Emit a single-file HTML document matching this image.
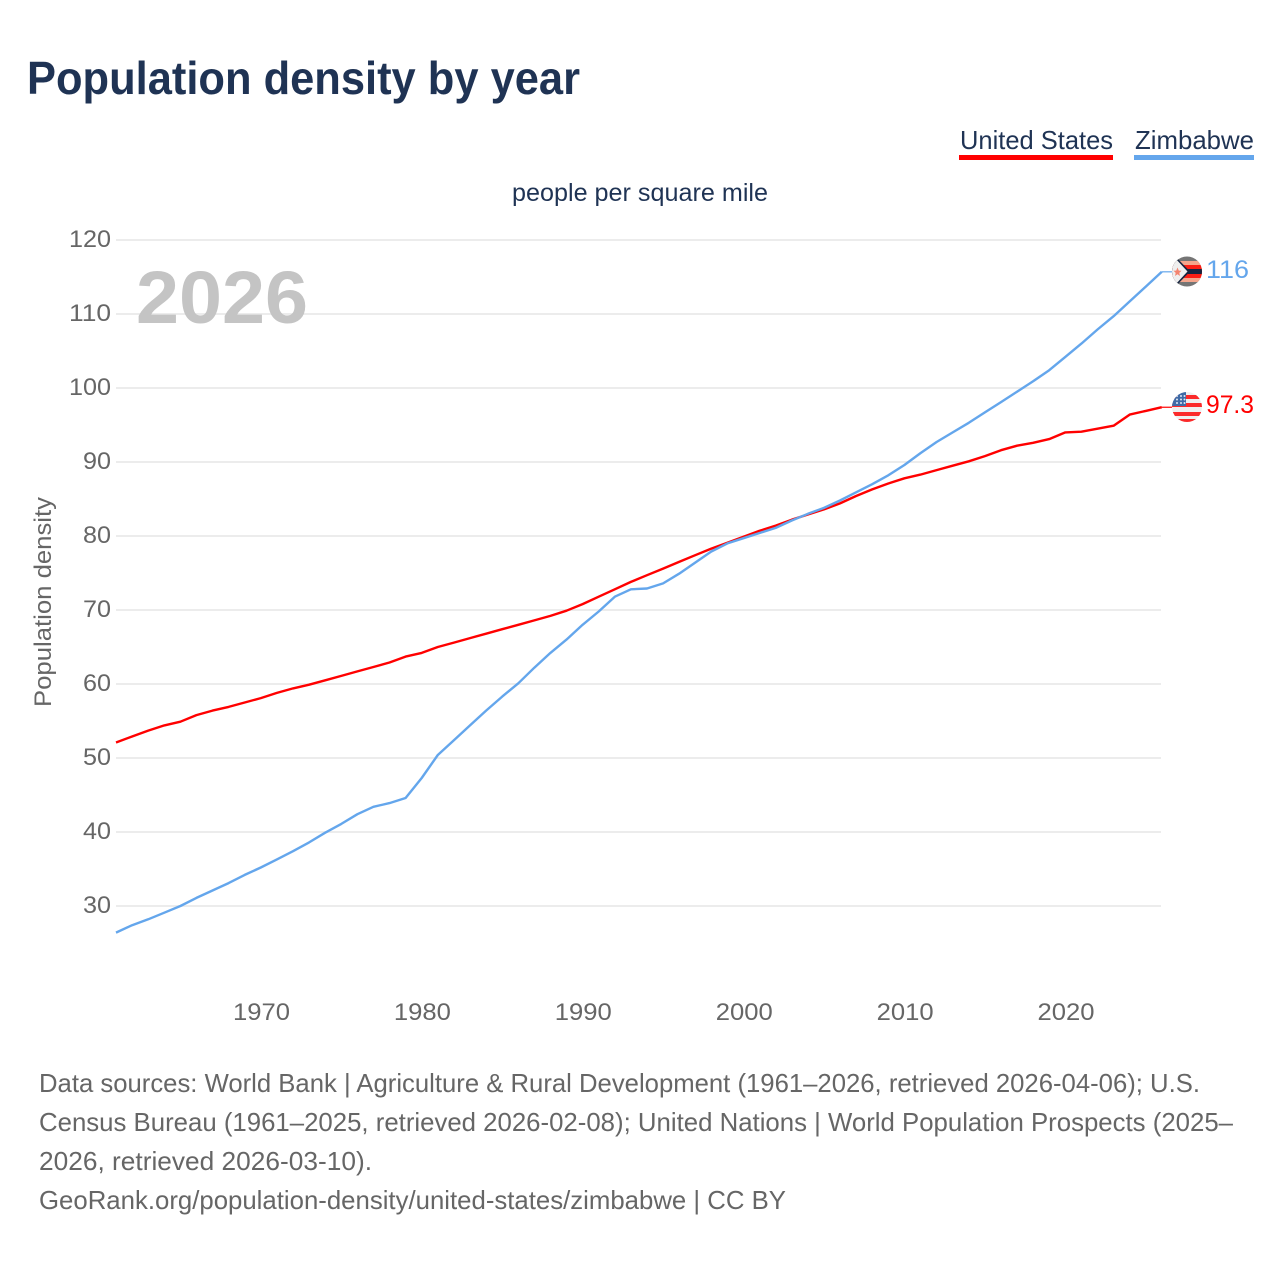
<!DOCTYPE html>
<html>
<head>
<meta charset="utf-8">
<title>Population density by year</title>
<style>
html,body{margin:0;padding:0;background:#fff;width:1280px;height:1280px;overflow:hidden}
svg{display:block}
text{font-family:"Liberation Sans",sans-serif}
</style>
</head>
<body>
<svg id="chart" xmlns="http://www.w3.org/2000/svg" width="1280" height="1280" viewBox="0 0 1280 1280">
  <defs>
    <clipPath id="clip-zw"><circle cx="1187" cy="271.5" r="15"/></clipPath>
    <clipPath id="clip-us"><circle cx="1187" cy="407" r="15"/></clipPath>
  </defs>
  <text x="27" y="94" font-size="46" font-weight="bold" fill="#1f3354" textLength="553" lengthAdjust="spacingAndGlyphs">Population density by year</text>

  <g>
    <text x="960" y="149" font-size="26" fill="#1f3354" textLength="153" lengthAdjust="spacingAndGlyphs">United States</text>
    <rect x="959" y="155" width="154" height="5" fill="#ff0000"/>
  </g>
  <g>
    <text x="1135" y="149" font-size="26" fill="#1f3354" textLength="119" lengthAdjust="spacingAndGlyphs">Zimbabwe</text>
    <rect x="1134" y="155" width="120" height="5" fill="#64a6ec"/>
  </g>

  <text x="512" y="201" font-size="25" fill="#1f3354" textLength="256" lengthAdjust="spacingAndGlyphs">people per square mile</text>

  <g id="grid"></g>
  <g id="y-ticks"></g>
  <g id="x-ticks"></g>

  <text transform="translate(51,707) rotate(-90)" x="0" y="0" font-size="24" fill="#666666" textLength="210" lengthAdjust="spacingAndGlyphs">Population density</text>

  <text x="136" y="323" font-size="74" font-weight="bold" fill="#c4c4c4" textLength="172" lengthAdjust="spacingAndGlyphs">2026</text>

  <path id="line-us" fill="none" stroke="#ff0000" stroke-width="2.4" stroke-linejoin="round"/>
  <path id="line-zw" fill="none" stroke="#64a6ec" stroke-width="2.4" stroke-linejoin="round"/>
  <path id="conn-us" fill="none" stroke="#ff0000" stroke-width="1.2"/>
  <path id="conn-zw" fill="none" stroke="#64a6ec" stroke-width="1.2"/>

  <g clip-path="url(#clip-zw)">
    <rect x="1172" y="256" width="30" height="31" fill="#757575"/>
    <rect x="1172" y="261" width="30" height="21" fill="#f4a58c"/>
    <rect x="1172" y="265" width="30" height="13" fill="#fb1d14"/>
    <rect x="1172" y="269" width="30" height="5" fill="#16243f"/>
    <polygon points="1172,256 1175,256 1190,271.5 1175,287 1172,287" fill="#16243f"/>
    <polygon points="1172,258 1175,258 1187.5,271.5 1175,285 1172,285" fill="#efefef"/>
    <polygon points="1177.5,267.5 1178.8,270.6 1181.5,270.8 1179.3,272.9 1180,276 1177.5,274.3 1175,276 1175.7,272.9 1173.5,270.8 1176.2,270.6" fill="#f4836f"/>
  </g>
  <g clip-path="url(#clip-us)">
    <rect x="1172" y="392" width="30" height="30" fill="#efefef"/>
    <rect x="1172" y="395" width="30" height="4" fill="#fb2a2a"/>
    <rect x="1172" y="403" width="30" height="4" fill="#fb2a2a"/>
    <rect x="1172" y="412" width="30" height="4" fill="#fb2a2a"/>
    <rect x="1172" y="419" width="30" height="4" fill="#fb2a2a"/>
    <rect x="1172" y="392" width="14" height="14" fill="#3f6aa6"/>
    <g fill="#dfe7f3">
      <circle cx="1177" cy="396" r="1"/><circle cx="1181" cy="396" r="1"/><circle cx="1184.5" cy="396" r="1"/>
      <circle cx="1177" cy="399.5" r="1"/><circle cx="1181" cy="399.5" r="1"/><circle cx="1184.5" cy="399.5" r="1"/>
      <circle cx="1177" cy="403" r="1"/><circle cx="1181" cy="403" r="1"/><circle cx="1184.5" cy="403" r="1"/>
    </g>
  </g>
  <text x="1206" y="278" font-size="25" fill="#64a6ec" textLength="43" lengthAdjust="spacingAndGlyphs">116</text>
  <text x="1206" y="413" font-size="25" fill="#ff0000" textLength="48" lengthAdjust="spacingAndGlyphs">97.3</text>

  <g font-size="26" fill="#666666">
    <text x="39" y="1092" textLength="1161" lengthAdjust="spacingAndGlyphs">Data sources: World Bank | Agriculture &amp; Rural Development (1961–2026, retrieved 2026-04-06); U.S.</text>
    <text x="39" y="1131" textLength="1194" lengthAdjust="spacingAndGlyphs">Census Bureau (1961–2025, retrieved 2026-02-08); United Nations | World Population Prospects (2025–</text>
    <text x="39" y="1170" textLength="333" lengthAdjust="spacingAndGlyphs">2026, retrieved 2026-03-10).</text>
    <text x="39" y="1209" textLength="747" lengthAdjust="spacingAndGlyphs">GeoRank.org/population-density/united-states/zimbabwe | CC BY</text>
  </g>
</svg>
<script>
const startYear = 1961;
const usValues = [52.1,52.9,53.7,54.4,54.9,55.8,56.4,56.9,57.5,58.1,58.8,59.4,59.9,60.5,61.1,61.7,62.3,62.9,63.7,64.2,65.0,65.6,66.2,66.8,67.4,68.0,68.6,69.2,69.9,70.8,71.8,72.8,73.8,74.7,75.6,76.5,77.4,78.3,79.1,79.9,80.7,81.4,82.2,82.9,83.6,84.4,85.4,86.3,87.1,87.8,88.3,88.9,89.5,90.1,90.8,91.6,92.2,92.6,93.1,94.0,94.1,94.5,94.9,96.4,96.9,97.4];
const zwValues = [26.4,27.4,28.2,29.1,30.0,31.1,32.1,33.1,34.2,35.2,36.3,37.4,38.6,39.9,41.1,42.4,43.4,43.9,44.6,47.3,50.4,52.4,54.4,56.4,58.3,60.1,62.2,64.2,66.0,68.0,69.8,71.8,72.8,72.9,73.6,74.9,76.4,77.9,79.0,79.7,80.4,81.1,82.1,83.0,83.8,84.8,85.9,87.0,88.2,89.6,91.2,92.7,94.0,95.3,96.7,98.1,99.5,100.9,102.4,104.2,106.0,107.9,109.7,111.7,113.7,115.7];
const yTicks = [30,40,50,60,70,80,90,100,110,120];
const xTicks = [1970,1980,1990,2000,2010,2020];

const SVGNS = 'http://www.w3.org/2000/svg';
function xScale(year){ return 116 + (year - 1961) * 16.09; }
function yScale(v){ return 906 - (v - 30) * 7.4; }
function linePath(values){
  return values.map(function(v,i){
    return (i ? 'L' : 'M') + xScale(startYear + i).toFixed(1) + ' ' + yScale(v).toFixed(1);
  }).join(' ');
}

const gridG = document.getElementById('grid');
const yG = document.getElementById('y-ticks');
yTicks.forEach(function(t){
  const ln = document.createElementNS(SVGNS,'line');
  
  
  ln.setAttribute('x1', 116);
  ln.setAttribute('x2', 1161);
  ln.setAttribute('y1', yScale(t));
  ln.setAttribute('y2', yScale(t));
  ln.setAttribute('stroke', '#ececec');
  ln.setAttribute('stroke-width', 2);
  gridG.appendChild(ln);
  const tx = document.createElementNS(SVGNS,'text');
  
  
  const w = String(t).length * 14;
  tx.setAttribute('x', 111 - w);
  tx.setAttribute('y', yScale(t) + 7);
  tx.setAttribute('font-size', 24);
  tx.setAttribute('fill', '#666666');
  tx.setAttribute('textLength', w);
  tx.setAttribute('lengthAdjust', 'spacingAndGlyphs');
  tx.textContent = t;
  yG.appendChild(tx);
});

const xG = document.getElementById('x-ticks');
xTicks.forEach(function(t){
  const tx = document.createElementNS(SVGNS,'text');
  
  
  tx.setAttribute('x', xScale(t) - 27.8);
  tx.setAttribute('y', 1020);
  tx.setAttribute('font-size', 24);
  tx.setAttribute('fill', '#666666');
  tx.setAttribute('textLength', 57);
  tx.setAttribute('lengthAdjust', 'spacingAndGlyphs');
  tx.textContent = t;
  xG.appendChild(tx);
});

document.getElementById('line-us').setAttribute('d', linePath(usValues));
document.getElementById('line-zw').setAttribute('d', linePath(zwValues));
const lastYear = startYear + usValues.length - 1;
const endX = xScale(lastYear);
const usEndY = yScale(usValues[usValues.length - 1]);
const zwEndY = yScale(zwValues[zwValues.length - 1]);
document.getElementById('conn-us').setAttribute('d', 'M' + endX + ' ' + usEndY + ' L1172 ' + usEndY);
document.getElementById('conn-zw').setAttribute('d', 'M' + endX + ' ' + zwEndY + ' L1172 ' + zwEndY);
</script>
</body>
</html>
